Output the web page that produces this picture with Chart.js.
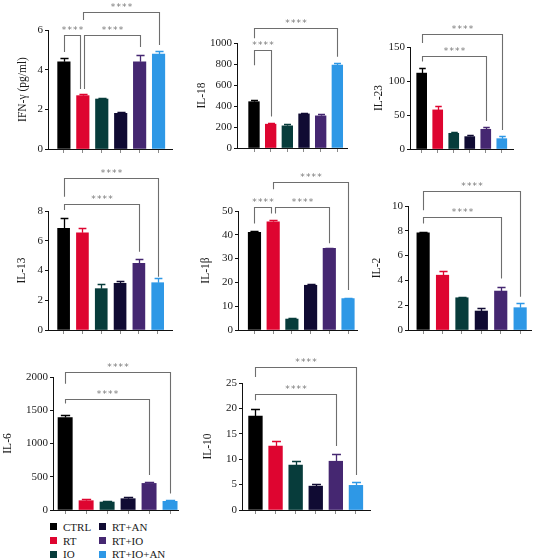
<!DOCTYPE html>
<html>
<head>
<meta charset="utf-8">
<script src="https://cdn.jsdelivr.net/npm/chart.js@4.4.1/dist/chart.umd.min.js"></script>
<style>
  html, body { margin: 0; padding: 0; background: #fff; overflow: hidden; }
  body { width: 535px; height: 560px; position: relative; }
  canvas { position: absolute; }
  .legend {
    position: absolute; left: 50px; top: 520px;
    display: grid; grid-auto-flow: column;
    grid-template-columns: 49px 70px; grid-template-rows: repeat(3, 13.7px);
    font: 11px "Liberation Serif", serif; color: #1a1a1a;
  }
  .legend span { display: flex; align-items: center; white-space: nowrap; }
  .legend i { display: inline-block; width: 7px; height: 7px; margin-right: 6px; }
</style>
</head>
<body>
<div class="legend" id="legend"></div>
<script>
const groups = ["CTRL", "RT", "IO", "RT+AN", "RT+IO", "RT+IO+AN"];
const groupColors = ["#000000", "#de0530", "#073c3b", "#100b33", "#452771", "#2e98e6"];

// mean and SEM per cytokine
const ifnMean = [4.40, 2.69, 2.52, 1.80, 4.40, 4.79];
const ifnErr  = [0.17, 0.07, 0.04, 0.05, 0.34, 0.17];
const il18Mean = [441, 227, 211, 325, 306, 789];
const il18Err  = [16, 15, 13, 6, 16, 25];
const il23Mean = [111.6, 57.5, 23.1, 18.2, 29, 15.2];
const il23Err  = [7.4, 5.9, 1.5, 2.4, 3.9, 4.0];
const il13Mean = [6.84, 6.54, 2.78, 3.14, 4.48, 3.18];
const il13Err  = [0.67, 0.30, 0.29, 0.15, 0.27, 0.34];
const il1bMean = [41.0, 45.5, 4.6, 18.8, 34.3, 13.2];
const il1bErr  = [0.6, 0.6, 0.4, 0.5, 0.3, 0.4];
const il2Mean = [7.83, 4.42, 2.60, 1.53, 3.14, 1.80];
const il2Err  = [0.08, 0.35, 0.08, 0.21, 0.35, 0.34];
const il6Mean = [1390, 140, 120, 170, 400, 130];
const il6Err  = [35, 20, 15, 20, 15, 15];
const il10Mean = [18.5, 12.6, 8.84, 4.7, 9.6, 4.85];
const il10Err  = [1.3, 1.0, 0.8, 0.5, 1.4, 0.7];

// significance brackets: [from, to, level, left drop end, right drop end, dx left, dx right]
const ifnSig  = [[0, 1, 5.75, 4.89, 3.03, 0, -2.5], [1, 4, 5.75, 3.03, 5.14, 1.5, 0], [1, 5, 6.92, 6.5, 5.24, 0, 0]];
const il18Sig = [[0, 1, 931, 789, 299, 0, 0], [0, 5, 1146, 1045, 870, 0, 0]];
const il23Sig = [[0, 4, 137.2, 128.8, 41.3, 0, 0], [0, 5, 169.6, 156, 28, 0, 0]];
const il13Sig = [[0, 4, 8.45, 8.07, 5.26, 0, 0], [0, 5, 10.2, 8.96, 3.58, 0, 0]];
const il1bSig = [[0, 1, 51.55, 44.8, 49.0, 0, -2], [1, 4, 51.55, 49.0, 36.4, 2, 0], [1, 5, 62.3, 59.1, 16.8, 0, 0]];
const il2Sig  = [[0, 4, 9.12, 8.58, 4.16, 0, 0], [0, 5, 11.2, 9.65, 2.68, 0, 0]];
const il6Sig  = [[0, 4, 1675, 1600, 525, 0, 0], [0, 5, 2075, 1900, 250, 0, 0]];
const il10Sig = [[0, 4, 22.9, 21.6, 12.6, 0, 0], [0, 5, 28.15, 26.2, 6.9, 0, 0]];

// panel layout: area = [left, right, top, bottom] of the plot in page px
const panels = [
  { title: "IFN-γ (pg/ml)", mean: ifnMean, err: ifnErr, sig: ifnSig, max: 6, step: 2,
    area: [48, 172, 30, 149], rowTop: 0, titleX: 22.5, padL: 0.84, padR: 0.71, bar: 12.5 },
  { title: "IL-18", mean: il18Mean, err: il18Err, sig: il18Sig, max: 1000, step: 200,
    area: [237, 347, 43, 148], rowTop: 0, titleX: 201.7, padL: 1.02, padR: 0.58, bar: 10.7 },
  { title: "IL-23", mean: il23Mean, err: il23Err, sig: il23Sig, max: 150, step: 50,
    area: [410, 513, 47, 149], rowTop: 0, titleX: 378.7, padL: 0.73, padR: 0.70, bar: 10 },
  { title: "IL-13", mean: il13Mean, err: il13Err, sig: il13Sig, max: 8, step: 2,
    area: [48, 172, 211, 330], rowTop: 163, titleX: 22, padL: 0.83, padR: 0.76, bar: 12 },
  { title: "IL-1β", mean: il1bMean, err: il1bErr, sig: il1bSig, max: 50, step: 10,
    area: [238, 357, 211, 330], rowTop: 163, titleX: 206, padL: 0.88, padR: 0.48, bar: 12.5 },
  { title: "IL-2", mean: il2Mean, err: il2Err, sig: il2Sig, max: 10, step: 2,
    area: [408, 531, 206, 330], rowTop: 163, titleX: 376.7, padL: 0.78, padR: 0.56, bar: 12.5 },
  { title: "IL-6", mean: il6Mean, err: il6Err, sig: il6Sig, max: 2000, step: 500,
    area: [53, 178, 377, 510], rowTop: 350, titleX: 8, padL: 0.58, padR: 0.38, bar: 14.3 },
  { title: "IL-10", mean: il10Mean, err: il10Err, sig: il10Sig, max: 25, step: 5,
    area: [242, 370, 383, 510], rowTop: 350, titleX: 208, padL: 0.67, padR: 0.70, bar: 13.7 }
];

Chart.defaults.font.family = "'Liberation Serif', serif";
Chart.defaults.color = "#1a1a1a";

function makePanel(p) {
  const left = Math.max(0, Math.round(p.titleX - 10));
  const top = p.rowTop;
  const w = p.area[1] + 4 - left;
  const h = p.area[3] + 10 - top;
  const cv = document.createElement("canvas");
  cv.width = w; cv.height = h;
  cv.style.left = left + "px"; cv.style.top = top + "px";
  cv.style.width = w + "px"; cv.style.height = h + "px";
  document.body.appendChild(cv);

  const titleSize = 11.5, titleLH = titleSize * 1.2;

  const extras = {
    id: "extras",
    afterDatasetsDraw(chart) {
      const { ctx, scales: { x, y } } = chart;
      ctx.save();
      // error bars (upper half, same colour as bar)
      p.mean.forEach((m, i) => {
        const cx = Math.round(x.getPixelForValue(i)) + 0.5;
        const y0 = y.getPixelForValue(m);
        const y1 = Math.round(y.getPixelForValue(m + p.err[i])) + 0.5;
        const cap = p.bar * 0.65;
        ctx.strokeStyle = groupColors[i];
        ctx.lineWidth = 1.3;
        ctx.beginPath();
        ctx.moveTo(cx, y0); ctx.lineTo(cx, y1);
        ctx.moveTo(cx - cap / 2, y1); ctx.lineTo(cx + cap / 2, y1);
        ctx.stroke();
      });
      // significance brackets
      ctx.strokeStyle = "#6e6e6e";
      ctx.lineWidth = 1.1;
      ctx.fillStyle = "#7a7a7a";
      ctx.font = "9px 'DejaVu Sans'";
      ctx.letterSpacing = "1.2px";
      ctx.textAlign = "center";
      ctx.textBaseline = "alphabetic";
      p.sig.forEach(b => {
        const xl = Math.round(x.getPixelForValue(b[0]) + b[5]) + 0.5;
        const xr = Math.round(x.getPixelForValue(b[1]) + b[6]) + 0.5;
        const yl = Math.round(y.getPixelForValue(b[2])) + 0.5;
        ctx.beginPath();
        ctx.moveTo(xl, y.getPixelForValue(b[3]));
        ctx.lineTo(xl, yl);
        ctx.lineTo(xr, yl);
        ctx.lineTo(xr, y.getPixelForValue(b[4]));
        ctx.stroke();
        ctx.fillText("****", (xl + xr) / 2 + 0.6, yl - 2.5);
      });
      ctx.restore();
    }
  };

  new Chart(cv, {
    type: "bar",
    data: {
      datasets: [{
        data: p.mean.map((v, i) => ({ x: i, y: v })),
        backgroundColor: groupColors,
        borderWidth: 0,
        barThickness: p.bar
      }]
    },
    options: {
      responsive: false,
      animation: false,
      devicePixelRatio: 1,
      layout: { padding: { left: 0, right: 4, top: p.area[2] - top, bottom: 0 } },
      plugins: { legend: { display: false }, tooltip: { enabled: false } },
      scales: {
        x: {
          type: "linear",
          min: -p.padL, max: 5 + p.padR,
          offset: false,
          grid: { display: true, drawOnChartArea: false, drawTicks: true, tickLength: 4, color: "#8a8a8a", offset: false },
          border: { display: true, color: "#111", width: 1 },
          ticks: { display: false },
          afterBuildTicks: s => { s.ticks = groups.map((g, i) => ({ value: i })); },
          afterFit: s => { s.height = 10; }
        },
        y: {
          min: 0, max: p.max,
          ticks: { stepSize: p.step, padding: 2, color: "#1a1a1a", font: { size: 11 }, callback: v => String(v) },
          grid: { drawOnChartArea: false, drawTicks: true, tickLength: 3, color: "#111" },
          border: { color: "#111", width: 1 },
          title: {
            display: true, text: p.title, color: "#1a1a1a",
            font: { size: titleSize, lineHeight: 1.2 },
            padding: { top: Math.max(0, p.titleX - left - titleLH / 2), bottom: 0 }
          },
          afterFit: s => { s.width = p.area[0] - left; }
        }
      }
    },
    plugins: [extras]
  });
}

panels.forEach(makePanel);

// legend, column-major like the figure
const legend = document.getElementById("legend");
groups.forEach((g, i) => {
  const item = document.createElement("span");
  item.innerHTML = `<i style="background:${groupColors[i]}"></i>${g}`;
  legend.appendChild(item);
});
</script>
</body>
</html>
